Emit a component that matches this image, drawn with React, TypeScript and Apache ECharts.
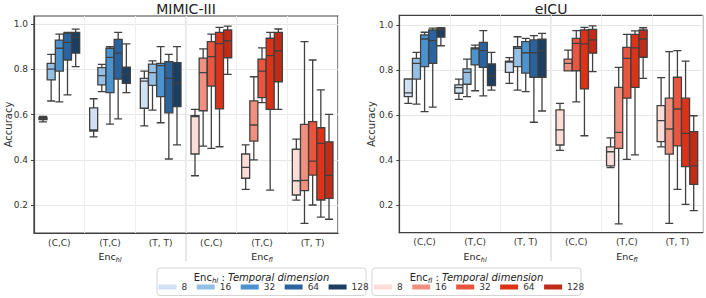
import React, { useEffect, useRef } from 'react';
import * as echarts from 'echarts';

const FONT = 'DejaVu Sans';

const categories = ['(C,C)', '(T,C)', '(T, T)', '(C,C)', '(T,C)', '(T, T)'];
const dims = ['8', '16', '32', '64', '128'];
const yTicks = [0.2, 0.4, 0.6, 0.8, 1.0];

// Each entry: [min, Q1, median, Q3, max]; rows = temporal dimension (8..128), columns = (C,C),(T,C),(T,T)
const mimicHl = [
  [[0.568, 0.578, 0.583, 0.588, 0.592], [0.502, 0.527, 0.533, 0.630, 0.670], [0.550, 0.628, 0.748, 0.760, 0.792]],
  [[0.660, 0.753, 0.801, 0.826, 0.866], [0.701, 0.731, 0.772, 0.807, 0.822], [0.620, 0.729, 0.785, 0.823, 0.837]],
  [[0.656, 0.792, 0.893, 0.929, 0.955], [0.558, 0.697, 0.853, 0.893, 0.900], [0.564, 0.679, 0.816, 0.826, 0.900]],
  [[0.687, 0.841, 0.919, 0.959, 0.963], [0.581, 0.757, 0.871, 0.932, 0.963], [0.404, 0.608, 0.760, 0.834, 0.866]],
  [[0.812, 0.871, 0.941, 0.963, 0.977], [0.697, 0.738, 0.778, 0.809, 0.912], [0.466, 0.635, 0.738, 0.829, 0.900]],
];
const mimicFl = [
  [[0.330, 0.426, 0.591, 0.595, 0.623], [0.270, 0.319, 0.367, 0.426, 0.466], [0.222, 0.245, 0.308, 0.447, 0.492]],
  [[0.461, 0.617, 0.785, 0.849, 0.890], [0.400, 0.483, 0.554, 0.661, 0.767], [0.120, 0.264, 0.310, 0.557, 0.922]],
  [[0.451, 0.726, 0.856, 0.922, 0.955], [0.653, 0.675, 0.792, 0.845, 0.895], [0.201, 0.333, 0.395, 0.569, 0.841]],
  [[0.458, 0.625, 0.913, 0.963, 0.985], [0.267, 0.623, 0.860, 0.937, 0.963], [0.147, 0.223, 0.473, 0.542, 0.709]],
  [[0.778, 0.851, 0.926, 0.974, 0.991], [0.623, 0.745, 0.881, 0.963, 0.978], [0.138, 0.230, 0.332, 0.480, 0.601]],
];
const eicuHl = [
  [[0.653, 0.683, 0.700, 0.761, 0.762], [0.671, 0.698, 0.723, 0.735, 0.761], [0.742, 0.791, 0.836, 0.841, 0.856]],
  [[0.650, 0.761, 0.831, 0.853, 0.880], [0.683, 0.738, 0.791, 0.806, 0.850], [0.712, 0.816, 0.898, 0.905, 0.949]],
  [[0.616, 0.816, 0.939, 0.957, 0.969], [0.709, 0.824, 0.895, 0.900, 0.912], [0.705, 0.787, 0.878, 0.927, 0.942]],
  [[0.636, 0.831, 0.932, 0.979, 0.987], [0.686, 0.813, 0.887, 0.924, 0.976], [0.569, 0.769, 0.878, 0.935, 0.954]],
  [[0.909, 0.947, 0.979, 0.987, 0.989], [0.712, 0.732, 0.775, 0.828, 0.880], [0.619, 0.769, 0.887, 0.938, 0.964]],
];
const eicuFl = [
  [[0.444, 0.468, 0.535, 0.624, 0.653], [0.367, 0.375, 0.438, 0.460, 0.500], [0.460, 0.483, 0.576, 0.643, 0.767]],
  [[0.797, 0.797, 0.831, 0.850, 0.890], [0.117, 0.453, 0.524, 0.724, 0.813], [0.120, 0.427, 0.539, 0.676, 0.883]],
  [[0.660, 0.798, 0.920, 0.942, 0.976], [0.404, 0.676, 0.853, 0.902, 0.960], [0.271, 0.464, 0.628, 0.769, 0.887]],
  [[0.509, 0.717, 0.917, 0.979, 0.991], [0.424, 0.724, 0.900, 0.960, 0.975], [0.204, 0.372, 0.520, 0.676, 0.841]],
  [[0.794, 0.876, 0.935, 0.982, 0.997], [0.764, 0.858, 0.939, 0.979, 0.989], [0.176, 0.293, 0.375, 0.527, 0.598]],
];

const hlColors = ['#cfe1f2', '#93c0e4', '#4a93cf', '#2a64a0', '#1c3e63'];
const flColors = ['#fcdcd7', '#f0907f', '#ea5540', '#dc3218', '#c02c18'];
const EDGE = '#404040';

const panels = [
  { title: 'MIMIC-III', hl: mimicHl, fl: mimicFl, left: 34, right: 368, top: 16, bottom: 65, yMin: 0.0773, yMax: 1.0353, accX: 8 },
  { title: 'eICU', hl: eicuHl, fl: eicuFl, left: 399.3, right: 3.3, top: 15.3, bottom: 65.3, yMin: 0.0782, yMax: 1.0444, accX: 371.5 },
];

const encText = (sub: string, size: number, subSize: number) => ({
  text: `{n|Enc}{s|${sub}}`,
  rich: {
    n: { fontSize: size, fontFamily: FONT, fill: '#222', lineHeight: 14 },
    s: { fontSize: subSize, fontFamily: FONT, fontStyle: 'italic', fill: '#222', lineHeight: 9, verticalAlign: 'bottom' },
  },
});

export default function App() {
  const ref = useRef<HTMLDivElement>(null);
  useEffect(() => {
    const chart = echarts.init(ref.current!, null, { renderer: 'svg' });
    const grid: any[] = [];
    const xAxis: any[] = [];
    const yAxis: any[] = [];
    const series: any[] = [];
    const graphic: any[] = [];

    panels.forEach((p, pi) => {
      const W = 706 - p.left - p.right;
      const H = 298 - p.top - p.bottom;
      grid.push({ left: p.left, right: p.right, top: p.top, bottom: p.bottom, show: true, borderColor: EDGE, borderWidth: 1.2, backgroundColor: 'transparent' });
      xAxis.push({
        type: 'category', gridIndex: pi, data: categories, boundaryGap: true, position: 'bottom',
        axisLine: { lineStyle: { color: EDGE, width: 1.2 } },
        axisTick: { alignWithLabel: true, length: 3, lineStyle: { color: EDGE } },
        axisLabel: { fontSize: 9, color: '#333', margin: 5, fontFamily: FONT, interval: 0 },
        splitLine: { show: true, interval: 0, lineStyle: { color: '#eeeeee' } },
      });
      xAxis.push({ type: 'category', gridIndex: pi, data: categories, boundaryGap: true, show: false, position: 'bottom' });
      yAxis.push({
        type: 'value', gridIndex: pi, min: p.yMin, max: p.yMax, splitNumber: 5,
        axisLine: { show: true, lineStyle: { color: EDGE, width: 1.2 } },
        axisTick: { show: true, length: 3, customValues: yTicks, lineStyle: { color: EDGE } },
        axisLabel: {
          customValues: yTicks, fontSize: 9, color: '#333', margin: 6, fontFamily: FONT,
          formatter: (v: number) => (Math.abs(v * 5 - Math.round(v * 5)) < 1e-6 ? v.toFixed(1) : ''),
        },
        splitLine: { lineStyle: { color: '#e6e6e6' } },
      });
      dims.forEach((d, k) => {
        const common = {
          type: 'boxplot', yAxisIndex: pi, boxWidth: [8, 8], encode: { x: 0, y: [1, 2, 3, 4, 5] },
          silent: true, emphasis: { disabled: true },
        };
        series.push({
          ...common, name: 'hl-' + d, xAxisIndex: 2 * pi,
          data: p.hl[k].map((v, i) => [i, ...v]),
          itemStyle: { color: hlColors[k], borderColor: EDGE, borderWidth: 1.3 },
        });
        series.push({
          ...common, name: 'fl-' + d, xAxisIndex: 2 * pi + 1,
          data: p.fl[k].map((v, i) => [i + 3, ...v]),
          itemStyle: { color: flColors[k], borderColor: EDGE, borderWidth: 1.3 },
        });
      });

      graphic.push({
        type: 'text', x: p.left + W / 2, y: 9, z: 10,
        style: { text: p.title, fontSize: 14, fontFamily: FONT, fill: '#222', align: 'center', verticalAlign: 'middle' },
      });
      graphic.push({
        type: 'text', x: p.accX, y: p.top + H / 2, rotation: Math.PI / 2, z: 10,
        style: { text: 'Accuracy', fontSize: 10, fontFamily: FONT, fill: '#333', align: 'center', verticalAlign: 'middle' },
      });
      graphic.push({
        type: 'line', z: 0,
        shape: { x1: p.left + W / 2, y1: p.top, x2: p.left + W / 2, y2: 261 },
        style: { stroke: '#cfcfcf', lineWidth: 1 },
      });
      graphic.push({
        type: 'text', x: p.left + (W * 1.5) / 6, y: 256, z: 10,
        style: { ...encText('hl', 9.5, 6.5), align: 'center', verticalAlign: 'middle' },
      });
      graphic.push({
        type: 'text', x: p.left + (W * 4.5) / 6, y: 256, z: 10,
        style: { ...encText('fl', 9.5, 6.5), align: 'center', verticalAlign: 'middle' },
      });
    });

    const legendBoxes = [
      { x: 157, sub: 'hl' },
      { x: 372, sub: 'fl' },
    ];
    legendBoxes.forEach((b) => {
      graphic.push({
        type: 'rect', z: 0,
        shape: { x: b.x, y: 268, width: 209, height: 27.5, r: 3 },
        style: { fill: '#ffffff', stroke: '#d4d4d4', lineWidth: 1 },
      });
      graphic.push({
        type: 'text', x: b.x + 104.5, y: 277, z: 10,
        style: {
          text: `{n|Enc}{s|${b.sub}}{n| : }{i|Temporal dimension}`,
          rich: {
            n: { fontSize: 10, fontFamily: FONT, fill: '#222', lineHeight: 14 },
            s: { fontSize: 7, fontFamily: FONT, fontStyle: 'italic', fill: '#222', lineHeight: 9, verticalAlign: 'bottom' },
            i: { fontSize: 10, fontFamily: FONT, fontStyle: 'italic', fill: '#222', lineHeight: 14 },
          },
          align: 'center', verticalAlign: 'middle',
        },
      });
    });

    const legendCommon = {
      orient: 'horizontal', top: 282.5, icon: 'rect', itemWidth: 18, itemHeight: 5, itemGap: 9.5, padding: 0,
      selectedMode: false,
      formatter: (n: string) => n.split('-')[1],
      textStyle: { fontSize: 9, color: '#333', fontFamily: FONT },
    };

    chart.setOption({
      animation: false,
      backgroundColor: '#ffffff',
      grid,
      xAxis,
      yAxis,
      series,
      graphic,
      legend: [
        {
          ...legendCommon, left: 158.5,
          data: dims.map((d, k) => ({ name: 'hl-' + d, itemStyle: { color: hlColors[k], borderWidth: 0 } })),
        },
        {
          ...legendCommon, left: 374,
          data: dims.map((d, k) => ({ name: 'fl-' + d, itemStyle: { color: flColors[k], borderWidth: 0 } })),
        },
      ],
    });
    return () => chart.dispose();
  }, []);
  return <div ref={ref} style={{ position: 'absolute', left: 0, top: 0, width: 706, height: 298 }} />;
}
